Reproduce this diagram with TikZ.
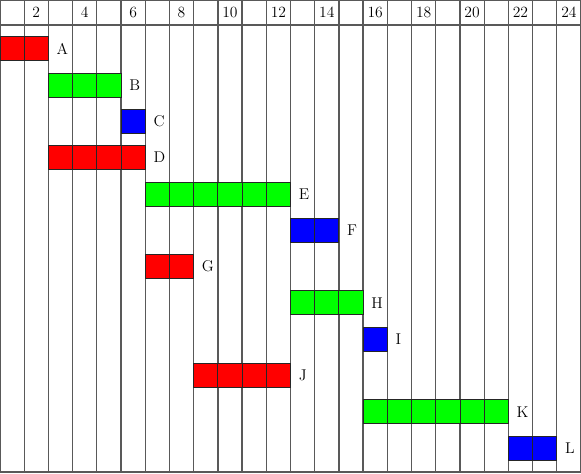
\documentclass[tikz,border=0pt]{standalone}
\usepackage{tikz}

\begin{document}
\begin{tikzpicture}[x=0.6cm,y=-1cm,
  gridline/.style={draw=black!65,line width=0.9pt},
  cell/.style={draw=black!85,line width=0.6pt},
  hdr/.style={font=\fontsize{11}{13}\selectfont,inner sep=0pt},
  lbl/.style={anchor=west,inner sep=0pt,font=\fontsize{11}{13}\selectfont}]
  \useasboundingbox (0,0) rectangle (24,11.73);
  % grid
  \foreach \c in {0,...,24}
    \draw[gridline] (\c,0) -- (\c,11.73);
  \draw[gridline] (0,0) -- (24,0);
  \draw[gridline] (0,0.62) -- (24,0.62);
  \draw[gridline] (0,11.70) -- (24,11.70);
  \foreach \n in {2,4,...,24}
    \node[hdr] (h\n) at (\n-0.5,0.31) {\n};
  % tasks
  \foreach \name/\s/\e/\col [count=\i from 0] in
    {A/0/2/red,B/2/5/green,C/5/6/blue,D/2/6/red,E/6/12/green,F/12/14/blue,
     G/6/8/red,H/12/15/green,I/15/16/blue,J/8/12/red,K/15/21/green,L/21/23/blue}{
    \pgfmathtruncatemacro\last{\e-1}
    \foreach \c in {\s,...,\last}
      \draw[cell,fill=\col] (\c,{0.91+0.9*\i}) rectangle ++(1,0.595);
    \node[lbl] (\name) at (\e+0.33,{1.2075+0.9*\i}) {\name};
  }
\end{tikzpicture}
\end{document}
